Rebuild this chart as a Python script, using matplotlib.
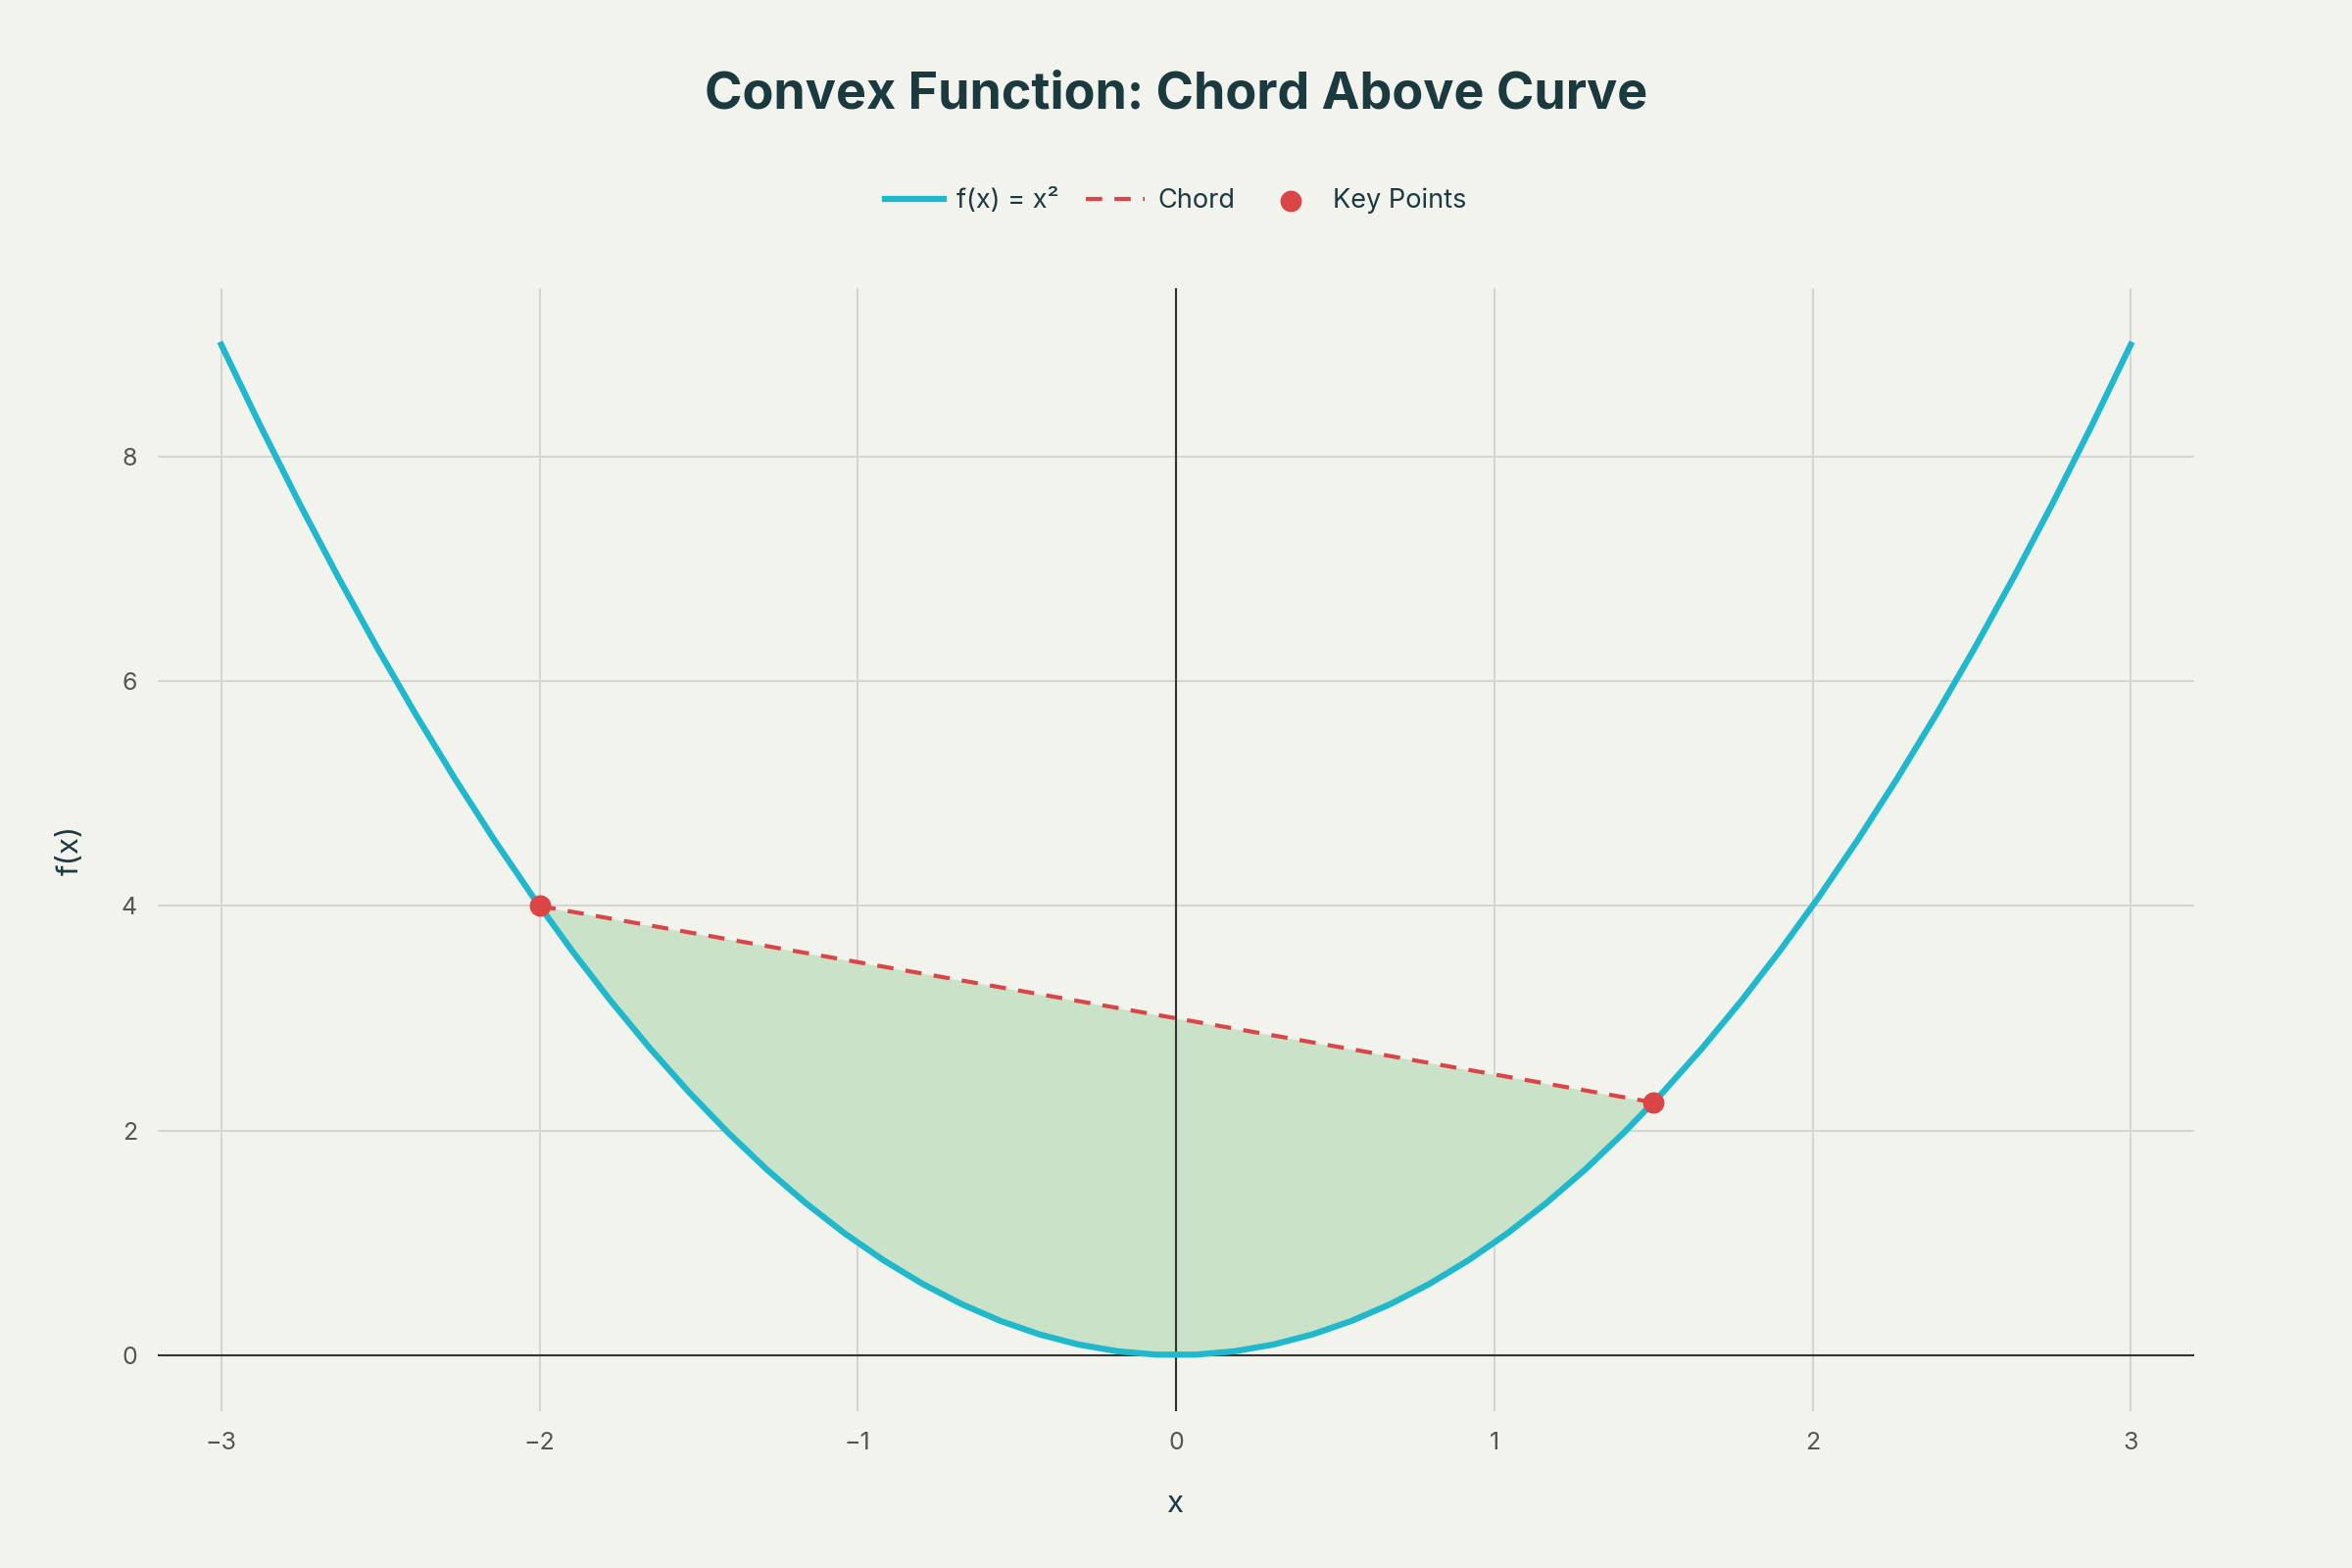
import numpy as np
import matplotlib.pyplot as plt

plt.rcParams['font.family'] = ['Inter', 'DejaVu Sans']

# curve samples
x_curve = np.linspace(-3, 3, 50)
y_curve = x_curve ** 2

# chord endpoints / key points
key_x = [-2.0, 1.5]
key_y = [4.0, 2.25]

bg = '#F3F3EE'
fig = plt.figure(figsize=(16, 10.6667), dpi=150, facecolor=bg)
ax = fig.add_axes([0.067, 0.10, 0.866, 0.716], facecolor=bg)

# shaded region between chord and curve
mask = (x_curve >= key_x[0]) & (x_curve <= key_x[1])
xs = np.concatenate([[key_x[0]], x_curve[mask], [key_x[1]]])
ys = xs ** 2
chord_y = np.interp(xs, key_x, key_y)
ax.fill_between(xs, ys, chord_y, color='#C8E3C6', alpha=0.95, lw=0, zorder=1)

ax.plot(x_curve, y_curve, color='#1FB8CD', lw=3, label='f(x) = x²', zorder=3)
ax.plot(key_x, key_y, color='#DB4545', lw=2, ls=(0, (4, 3)), label='Chord', zorder=4)
ax.scatter(key_x, key_y, s=90, color='#DB4545', label='Key Points', zorder=5)

ax.axhline(0, color='#333333', lw=1, zorder=2)
ax.axvline(0, color='#333333', lw=1, zorder=2)

ax.set_xlim(-3.2, 3.2)
ax.set_ylim(-0.5, 9.5)
ax.set_xticks([-3, -2, -1, 0, 1, 2, 3])
ax.set_xticklabels(['−3', '−2', '−1', '0', '1', '2', '3'])
ax.set_yticks([0, 2, 4, 6, 8])
ax.grid(True, color='#D5D5D2', lw=1)
ax.set_axisbelow(True)
for s in ax.spines.values():
    s.set_visible(False)
ax.tick_params(length=0, labelsize=12, colors='#555555', pad=10)

ax.set_xlabel('x', fontsize=15, color='#1B3A40', labelpad=18)
ax.set_ylabel('f(x)', fontsize=15, color='#1B3A40', labelpad=18)

fig.suptitle('Convex Function: Chord Above Curve', fontsize=25, fontweight='bold',
             color='#1B3A40', y=0.955)
fig.legend(loc='center', bbox_to_anchor=(0.5, 0.872), ncol=3, frameon=False,
           fontsize=13, labelcolor='#1B3A40', handlelength=2.2, columnspacing=1.0,
           handletextpad=0.5)

fig.savefig('out.png', dpi=150, facecolor=bg)
